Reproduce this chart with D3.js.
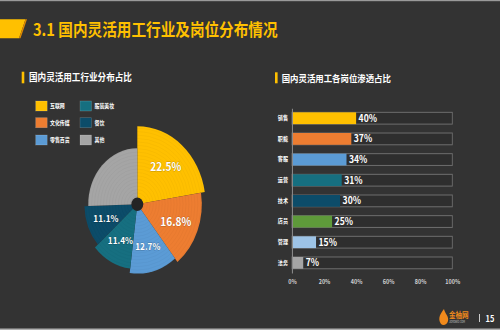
<!DOCTYPE html>
<html><head><meta charset="utf-8">
<script src="https://cdn.jsdelivr.net/npm/d3@7/dist/d3.min.js"></script>
<style>
html,body{margin:0;padding:0;background:#333;}
svg{display:block;}
text{font-family:"Noto Sans CJK SC","Noto Sans",sans-serif;}
</style></head>
<body>
<svg id="chart" width="500" height="330"></svg>
<script>
// ---- data ----
const pieCategories = ["互联网","文化传媒","零售百货","服装美妆","餐饮","其他"];
const pieValues = [22.5, 16.8, 12.7, 11.4, 11.1, 25.5];
const pieLabels = ["22.5%","16.8%","12.7%","11.4%","11.1%",""];
const pieColors = ["#FFC000","#ED7D31","#5B9BD5","#166F80","#0C4C69","#A5A5A5"];

const barCategories = ["销售","职能","客服","运营","技术","店员","管理","法务"];
const barValues = [40, 37, 34, 31, 30, 25, 15, 7];
const barColors = ["#FFC000","#ED7D31","#5B9BD5","#166F80","#0C4C69","#5E9A3A","#9DC3E6","#A5A5A5"];
const xTicks = [0, 20, 40, 60, 80, 100];

const title = "3.1 国内灵活用工行业及岗位分布情况";
const leftTitle = "国内灵活用工行业分布占比";
const rightTitle = "国内灵活用工各岗位渗透占比";

// ---- layout ----
const SX = 0.876;              // reference is horizontally compressed
const ax = v => v / SX;        // actual px -> design px
const svg = d3.select("#chart");
svg.append("rect").attr("width",500).attr("height",330).attr("fill","#333333");
svg.append("rect").attr("width",500).attr("height",1.2).attr("fill","#9a9a9a");
svg.append("rect").attr("y",328.5).attr("width",500).attr("height",1.5).attr("fill","#b0b0b0");

const root = svg.append("g").attr("transform",`scale(${SX},1)`);

// title banner
root.append("path")
  .attr("d",`M0,19.3 L${ax(25.5)},19.3 L${ax(19)},38.3 L0,38.3 Z`).attr("fill","#FFC000");
root.append("path")
  .attr("d",`M${ax(25.5)},19.3 L${ax(27)},19.3 L${ax(20.5)},38.3 L${ax(19)},38.3 Z`).attr("fill","#E08A00");
root.append("text").attr("x",ax(33)).attr("y",36.3)
  .attr("font-size",16.7).attr("font-weight","bold").attr("fill","#FFC000").text(title);

// subtitles
root.append("rect").attr("x",ax(21.7)).attr("y",71.7).attr("width",ax(2.6)).attr("height",11.6).attr("fill","#FFC000");
root.append("text").attr("x",ax(29)).attr("y",81.5).attr("font-size",9.8).attr("font-weight","bold").attr("fill","#fff").text(leftTitle);
root.append("rect").attr("x",ax(275)).attr("y",72.3).attr("width",ax(2.6)).attr("height",11).attr("fill","#FFC000");
root.append("text").attr("x",ax(281.7)).attr("y",82).attr("font-size",9.6).attr("font-weight","bold").attr("fill","#fff").text(rightTitle);

// ---- legend ----
const legend = root.append("g");
pieCategories.forEach((c,i)=>{
  const col = i < 3 ? 0 : 1, row = i % 3;
  const x = col === 0 ? 35.7 : 80, tx = col === 0 ? 50 : 94.5;
  const y = [101,117.7,135][row];
  legend.append("rect").attr("x",ax(x)).attr("y",y).attr("width",ax(11.5)).attr("height",10)
    .attr("fill",pieColors[i]).attr("stroke","rgba(255,255,255,0.25)").attr("stroke-width",0.6);
  legend.append("text").attr("x",ax(tx)).attr("y",y+7.2).attr("font-size",5.6).attr("font-weight","bold")
    .attr("fill","#fff").text(c);
});

// ---- pie ----
const cx = ax(137.3), cy = 204.3;
const rScale = d3.scaleLinear().domain([0, pieValues.length-1]).range([78, 56]);
const pie = d3.pie().sort(null).value(d=>d);
const arcs = pie(pieValues);
const pg = root.append("g").attr("transform",`translate(${cx},${cy})`);
const arcGen = (d,i) => d3.arc().innerRadius(0).outerRadius(rScale(i))(d);
const defs = svg.append("defs");
const clip = defs.append("clipPath").attr("id","pieclip");
arcs.forEach((d,i)=> clip.append("path").attr("d", arcGen(d,i)));
pg.selectAll("path.slice").data(arcs).join("path").attr("class","slice")
  .attr("d",(d,i)=>arcGen(d,i)).attr("fill",(d,i)=>pieColors[i]);
// concentric ring texture
const rings = pg.append("g").attr("clip-path","url(#pieclip)");
d3.range(8, 80, 3.4).forEach(r=>{
  rings.append("circle").attr("r",r).attr("fill","none")
    .attr("stroke","rgba(0,0,0,0.045)").attr("stroke-width",0.7);
});
pg.append("circle").attr("r",6.8).attr("fill","#242424");
arcs.forEach((d,i)=>{
  if(!pieLabels[i]) return;
  const a = (d.startAngle + d.endAngle)/2;
  const rr = rScale(i) * 0.64;
  pg.append("text").attr("x", Math.sin(a)*rr).attr("y", -Math.cos(a)*rr)
    .attr("text-anchor","middle").attr("dy","0.36em")
    .attr("font-size", pieValues[i] > 15 ? 11.6 : 9.4).attr("font-weight","bold")
    .attr("fill","#fff").attr("font-family","'Noto Sans',sans-serif")
    .style("paint-order","stroke").attr("stroke","rgba(0,0,0,0.25)").attr("stroke-width",0.8)
    .text(pieLabels[i]);
});

// ---- bars ----
const x = d3.scaleLinear().domain([0,100]).range([ax(292), ax(452.3)]);
const y = d3.scaleBand().domain(barCategories).range([108.2, 272.9]).paddingInner(0.43).paddingOuter(0.2);
const bg = root.append("g");
bg.selectAll("rect.track").data(barCategories).join("rect").attr("class","track")
  .attr("x", x(0)).attr("y", d=>y(d)).attr("width", x(100)-x(0)).attr("height", y.bandwidth())
  .attr("fill","#2e2e2e").attr("stroke","#6e6e6e").attr("stroke-width",1);
bg.selectAll("rect.bar").data(barValues).join("rect").attr("class","bar")
  .attr("x", x(0)).attr("y",(d,i)=>y(barCategories[i])).attr("width", d=>x(d)-x(0)).attr("height", y.bandwidth())
  .attr("fill",(d,i)=>barColors[i]);
bg.selectAll("text.val").data(barValues).join("text").attr("class","val")
  .attr("x", d=>x(d)+ax(2.5)).attr("y",(d,i)=>y(barCategories[i])+y.bandwidth()/2).attr("dy","0.36em")
  .attr("font-size",9.8).attr("font-weight","bold").attr("fill","#fff").attr("font-family","'Noto Sans',sans-serif")
  .text(d=>d+"%");
// y axis
const yAxis = bg.append("g").attr("transform",`translate(${x(0)},0)`)
  .call(d3.axisLeft(y).tickSize(0).tickPadding(ax(4)));
yAxis.select(".domain").attr("stroke","#8a8a8a").attr("stroke-width",1.2);
yAxis.selectAll("text").attr("font-size",5.8).attr("font-weight","bold").attr("fill","#fff")
  .attr("font-family","'Noto Sans CJK SC',sans-serif");
// x axis
const xAxis = bg.append("g").attr("transform",`translate(0,274)`)
  .call(d3.axisBottom(x).tickValues(xTicks).tickFormat(d=>d+"%").tickSize(0).tickPadding(6));
xAxis.select(".domain").remove();
xAxis.selectAll("text").attr("font-size",6.2).attr("font-weight","bold").attr("fill","#d0d0d0")
  .attr("font-family","'Noto Sans',sans-serif");

// ---- footer ----
const ft = root.append("g");
ft.append("path").attr("d",`M${ax(441)},324 C${ax(437)},318 ${ax(441)},313 ${ax(444)},309 C${ax(445)},314 ${ax(449)},316 ${ax(448)},321 C${ax(447)},325 ${ax(443)},326 ${ax(441)},324 Z`)
  .attr("fill","#F08A1C");
ft.append("text").attr("x",ax(449)).attr("y",318).attr("font-size",7.5).attr("font-weight","bold").attr("fill","#F08A1C").text("金柚网");
ft.append("text").attr("x",ax(449)).attr("y",323).attr("font-size",2.8).attr("fill","#cccccc").text("JOYOWO.COM");
ft.append("rect").attr("x",ax(479)).attr("y",314).attr("width",ax(0.9)).attr("height",8).attr("fill","#ddd");
ft.append("text").attr("x",ax(485.5)).attr("y",322).attr("font-size",8.5).attr("font-weight","bold").attr("fill","#fff")
  .attr("font-family","'Noto Sans',sans-serif").text("15");
</script>
</body></html>
